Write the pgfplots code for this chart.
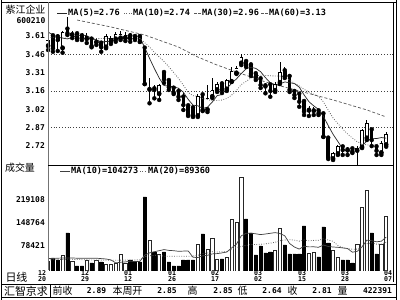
\documentclass[border=0pt]{standalone}
\usepackage{fontspec}
\setmainfont{DejaVu Sans}
\newfontfamily\cjk{Noto Sans CJK SC}
\newfontfamily\mono{DejaVu Sans Mono}
\usepackage{pgfplots}
\pgfplotsset{compat=1.18}
\usepackage{pgfplotstable}
\usetikzlibrary{plotmarks}
\newcommand\nf{\mono\bfseries\fontsize{8}{9}\selectfont}
\newcommand\lf{\mono\bfseries\fontsize{8.6}{9}\selectfont}
\newcommand\tf{\mono\bfseries\fontsize{6.6}{6.3}\selectfont}
\newcommand\cf[1]{\cjk\fontsize{#1}{#1}\selectfont}
\pgfplotstableread{
i o h l c
0 3.528 3.593 3.496 3.577
1 3.610 3.618 3.482 3.510
2 3.602 3.626 3.488 3.577
3 3.510 3.650 3.474 3.636
4 3.664 3.761 3.618 3.632
5 3.618 3.650 3.593 3.634
6 3.626 3.642 3.577 3.591
7 3.610 3.634 3.577 3.598
8 3.585 3.634 3.553 3.606
9 3.583 3.604 3.518 3.528
10 3.557 3.593 3.537 3.565
11 3.550 3.561 3.482 3.518
12 3.518 3.626 3.510 3.610
13 3.563 3.610 3.545 3.591
14 3.583 3.645 3.563 3.626
15 3.591 3.650 3.577 3.626
16 3.591 3.642 3.569 3.618
17 3.610 3.634 3.563 3.588
18 3.604 3.618 3.577 3.593
19 3.604 3.618 3.561 3.563
20 3.510 3.523 3.220 3.220
21 3.174 3.267 3.064 3.180
22 3.180 3.212 3.104 3.172
23 3.139 3.220 3.091 3.212
24 3.312 3.328 3.229 3.258
25 3.247 3.253 3.172 3.194
26 3.185 3.204 3.139 3.150
27 3.158 3.188 3.091 3.117
28 3.113 3.147 3.010 3.050
29 3.042 3.058 2.961 2.969
30 3.026 3.042 2.953 2.961
31 2.961 3.139 2.953 3.123
32 3.131 3.139 3.001 3.010
33 3.010 3.212 2.993 3.104
34 3.117 3.267 3.107 3.172
35 3.172 3.237 3.156 3.220
36 3.220 3.229 3.147 3.172
37 3.177 3.261 3.164 3.247
38 3.239 3.361 3.237 3.320
39 3.307 3.366 3.302 3.348
40 3.388 3.464 3.374 3.437
41 3.401 3.415 3.358 3.374
42 3.374 3.391 3.285 3.302
43 3.302 3.318 3.253 3.275
44 3.261 3.277 3.188 3.212
45 3.204 3.229 3.145 3.200
46 3.212 3.220 3.117 3.164
47 3.166 3.237 3.156 3.220
48 3.231 3.399 3.220 3.312
49 3.326 3.358 3.269 3.285
50 3.280 3.293 3.156 3.172
51 3.158 3.180 3.107 3.131
52 3.137 3.147 3.036 3.077
53 3.077 3.091 2.969 2.996
54 3.005 3.042 2.961 3.010
55 3.001 3.034 2.969 3.005
56 3.001 3.010 2.969 2.983
57 2.977 2.985 2.791 2.793
58 2.780 2.791 2.612 2.626
59 2.612 2.669 2.604 2.658
60 2.653 2.726 2.645 2.712
61 2.709 2.726 2.645 2.685
62 2.685 2.709 2.645 2.681
63 2.693 2.701 2.661 2.671
64 2.679 2.717 2.555 2.701
65 2.707 2.855 2.701 2.842
66 2.780 2.928 2.766 2.902
67 2.847 2.855 2.717 2.766
68 2.709 2.726 2.645 2.679
69 2.661 2.758 2.645 2.742
70 2.726 2.834 2.712 2.815
}\price
\pgfplotstableread{
i m5 m10
0 3.642 3.600
1 3.618 3.598
2 3.602 3.596
3 3.593 3.594
4 3.586 3.592
5 3.598 3.591
6 3.614 3.590
7 3.618 3.590
8 3.612 3.589
9 3.591 3.589
10 3.577 3.588
11 3.563 3.589
12 3.565 3.592
13 3.563 3.587
14 3.582 3.587
15 3.594 3.586
16 3.614 3.589
17 3.610 3.588
18 3.610 3.586
19 3.598 3.589
20 3.516 3.555
21 3.429 3.521
22 3.346 3.477
23 3.269 3.440
24 3.208 3.403
25 3.203 3.360
26 3.197 3.313
27 3.186 3.266
28 3.154 3.211
29 3.096 3.152
30 3.049 3.126
31 3.044 3.121
32 3.022 3.104
33 3.033 3.094
34 3.074 3.085
35 3.126 3.087
36 3.135 3.090
37 3.183 3.103
38 3.226 3.130
39 3.262 3.168
40 3.305 3.216
41 3.345 3.241
42 3.356 3.270
43 3.347 3.287
44 3.320 3.291
45 3.272 3.289
46 3.230 3.288
47 3.214 3.285
48 3.222 3.284
49 3.237 3.278
50 3.231 3.251
51 3.224 3.227
52 3.195 3.205
53 3.132 3.177
54 3.077 3.156
55 3.043 3.137
56 3.014 3.119
57 2.958 3.076
58 2.883 3.008
59 2.813 2.945
60 2.754 2.899
61 2.695 2.855
62 2.672 2.815
63 2.682 2.782
64 2.690 2.752
65 2.716 2.735
66 2.760 2.727
67 2.777 2.724
68 2.778 2.730
69 2.786 2.738
70 2.781 2.748
}\pma
\pgfplotstableread{
i m30
6 3.739
13 3.683
20 3.618
27 3.520
31 3.439
35 3.374
39 3.318
45 3.237
52 3.164
59 3.091
66 3.010
70 2.953
}\pmal
\pgfplotstableread{
i v
0 30850
3 49360
5 30850
8 33935
10 33935
12 21595
13 21595
14 24680
15 52445
16 24680
21 95635
23 52445
31 83295
33 67870
34 101805
35 37020
37 43190
38 160420
39 151165
40 289990
47 64785
48 132655
54 55530
55 58615
59 64785
60 43190
64 83295
65 197440
66 249885
69 83295
70 169675
}\vup
\pgfplotstableread{
i v
1 40105
2 33935
4 117230
6 15425
7 15425
9 24680
11 27765
17 33935
18 27765
19 27765
20 228290
22 58615
24 58615
25 27765
26 15425
27 15425
28 33935
29 33935
30 33935
32 114145
36 37020
41 160420
42 117230
43 49360
44 77125
45 55530
46 58615
49 80210
50 52445
51 52445
52 52445
53 138825
56 43190
57 135740
58 86380
61 33935
62 33935
63 24680
67 117230
68 52445
}\vdn
\pgfplotstableread{
i m10 m20
0 38560 34000
1 38560 34500
2 39490 35000
3 40100 35500
4 40100 36000
5 40100 36000
6 39490 35500
7 39490 35000
8 39180 34500
9 39180 34000
10 39490 34000
11 38250 33500
12 37020 33500
13 34240 33000
14 24990 33000
15 27150 33500
16 28070 33500
17 29930 34000
18 29310 34200
19 29620 34400
20 49050 44270
21 55840 47050
22 59540 48280
23 62630 48440
24 66020 45500
25 63550 45350
26 62630 45350
27 60780 45350
28 61390 45350
29 62010 45810
30 42570 45810
31 41340 48590
32 46890 53220
33 48440 55530
34 52750 59390
35 53680 58620
36 55840 59230
37 58620 59700
38 71260 66330
39 82990 72500
40 108590 75580
41 116310 78820
42 116610 81750
43 114760 81600
44 112290 82520
45 114150 83910
46 116310 86070
47 118460 88540
48 115690 93480
49 108590 95790
50 84840 96720
51 74040 95170
52 67560 92090
53 76510 95640
54 74350 93320
55 74660 94400
56 73120 94710
57 80210 99340
58 75580 95640
59 74040 91320
60 73120 78980
61 71260 72650
62 69410 68490
63 58000 67250
64 60780 67560
65 74660 74660
66 95330 84220
67 93480 86840
68 90080 82830
69 91930 82990
70 104580 88850
}\vma
\begin{document}
\begin{tikzpicture}
\useasboundingbox (0,0) rectangle (400bp,300bp);
\fill[white] (0,0) rectangle (400bp,300bp);
% ---------- price panel ----------
\begin{axis}[
  at={(48bp,135bp)}, anchor=south west, scale only axis,
  width=345bp, height=162bp,
  xmin=-0.02, xmax=71.41, ymin=2.5635, ymax=3.8773,
  axis line style={draw=none}, major tick length=0pt,
  xtick=\empty,
  ytick={2.72,2.866,3.016,3.164,3.312,3.461,3.609},
  yticklabels={2.72,2.87,3.02,3.16,3.31,3.46,3.61},
  yticklabel style={font=\nf, anchor=east, inner sep=0pt, xshift=-3bp},
  extra y ticks={2.866,3.164,3.461}, extra y tick labels={},
  extra y tick style={grid=major},
  major grid style={black!75, dash pattern=on 0.9bp off 1.9bp, line width=0.7bp},
]
% wicks
\addplot[only marks, mark=none, error bars/.cd, y dir=plus, y explicit, error mark=none,
  error bar style={draw=black, line width=0.8bp, solid}]
  table[x=i, y=l, y error expr=\thisrow{h}-\thisrow{l}]{\price};
% bodies (black)
\addplot[only marks, mark=none, error bars/.cd, y dir=plus, y explicit, error mark=none,
  error bar style={draw=black, line width=3.5bp, solid}]
  table[x=i, y expr={min(\thisrow{o},\thisrow{c})}, y error expr={abs(\thisrow{c}-\thisrow{o})}]{\price};
% hollow interiors of rising candles
\addplot[only marks, mark=none, error bars/.cd, y dir=plus, y explicit, error mark=none,
  error bar style={draw=white, line width=2.1bp, solid}]
  table[x=i, y expr={\thisrow{o}+0.0057}, y error expr={max(\thisrow{c}-\thisrow{o}-0.0114,0)}]{\price};
% open / close ticks
\addplot[only marks, mark=-, mark size=1.75bp, mark options={draw=black, line width=0.7bp, solid}]
  table[x=i, y=c]{\price};
\addplot[only marks, mark=-, mark size=1.75bp, mark options={draw=black, line width=0.7bp, solid}]
  table[x=i, y=o]{\price};
\addplot[black!85, line width=0.7bp, mark=none] table[x=i,y=m5]{\pma};
\addplot[black!60, line width=0.8bp, dash pattern=on 0.8bp off 1.6bp, mark=none] table[x=i,y=m10]{\pma};
\addplot[black!65, line width=0.7bp, dash pattern=on 3bp off 2bp, mark=none] table[x=i,y=m30]{\pmal};
\end{axis}
% ---------- volume panel ----------
\begin{axis}[
  at={(48bp,29bp)}, anchor=south west, scale only axis,
  width=345bp, height=106bp,
  xmin=-0.02, xmax=71.41, ymin=0, ymax=327010,
  axis line style={draw=none}, major tick length=0pt,
  xtick=\empty,
  ytick={78421,148764,219108},
  yticklabels={78421,148764,219108},
  yticklabel style={font=\nf, anchor=east, inner sep=0pt, xshift=-3bp},
  scaled y ticks=false,
]
\addplot[ybar, bar width=3.2bp, bar shift=0pt, draw=black!85, fill=white, line width=0.6bp] table[x=i,y=v]{\vup};
\addplot[ybar, bar width=3.2bp, bar shift=0pt, draw=black, fill=black, line width=0.6bp] table[x=i,y=v]{\vdn};
\addplot[black!75, line width=0.7bp, mark=none] table[x=i,y=m10]{\vma};
\addplot[black!60, line width=0.8bp, dash pattern=on 0.8bp off 1.6bp, mark=none] table[x=i,y=m20]{\vma};
\end{axis}
% ---------- frames ----------
\draw[line width=1.3bp] (1.2bp,0) -- (1.2bp,300bp);
\draw[line width=1.3bp] (396.6bp,0) -- (396.6bp,300bp);
\draw[line width=1bp] (1.2bp,297.5bp) -- (396.6bp,297.5bp);
\draw[line width=1bp] (393.3bp,297.5bp) -- (393.3bp,18bp);
\draw[line width=1.6bp, black!55] (48.5bp,297.5bp) -- (48.5bp,30bp);
\draw[line width=0.8bp] (48bp,135bp) -- (393.3bp,135bp);
\draw[line width=1.3bp] (1.2bp,15.3bp) -- (396.6bp,15.3bp);
\draw[line width=1.3bp] (1.2bp,2.5bp) -- (396.6bp,2.5bp);
\draw[line width=1bp] (50bp,15.3bp) -- (50bp,2.5bp);
% ---------- legends ----------
\draw[black!85, line width=0.8bp] (57bp,286.7bp) -- (67bp,286.7bp);
\node[font=\lf, anchor=west, inner sep=0pt] at (68bp,286.7bp) {MA(5)=2.76};
\draw[black!60, line width=0.8bp, dash pattern=on 0.8bp off 1.6bp] (124bp,286.7bp) -- (132bp,286.7bp);
\node[font=\lf, anchor=west, inner sep=0pt] at (133bp,286.7bp) {MA(10)=2.74};
\draw[black!65, line width=0.8bp, dash pattern=on 2.5bp off 1.5bp] (194bp,286.7bp) -- (201bp,286.7bp);
\node[font=\lf, anchor=west, inner sep=0pt] at (202bp,286.7bp) {MA(30)=2.96};
\draw[black!65, line width=0.8bp, dash pattern=on 2.5bp off 1.5bp] (261bp,286.7bp) -- (268bp,286.7bp);
\node[font=\lf, anchor=west, inner sep=0pt] at (269bp,286.7bp) {MA(60)=3.13};
\draw[black!75, line width=0.8bp] (60bp,129bp) -- (70bp,129bp);
\node[font=\lf, anchor=west, inner sep=0pt] at (71bp,129bp) {MA(10)=104273};
\draw[black!60, line width=0.8bp, dash pattern=on 0.8bp off 1.6bp] (140bp,129bp) -- (147bp,129bp);
\node[font=\lf, anchor=west, inner sep=0pt] at (148bp,129bp) {MA(20)=89360};
% ---------- labels ----------
\node[font=\cf{10}, inner sep=0pt] at (25.5bp,290.3bp) {紫江企业};
\node[font=\nf, anchor=east, inner sep=0pt] at (45.5bp,279.5bp) {600210};
\node[font=\cf{10}, inner sep=0pt] at (20bp,132bp) {成交量};
\node[font=\cf{11}, inner sep=0pt] at (16.5bp,22.5bp) {日线};
\foreach \xx/\ma/\mb in {42/12/20, 85/12/29, 128/01/12, 172/01/26, 215/02/17, 258/03/02, 302/03/15, 345/03/28, 388/04/07}{
  \node[font=\tf, align=center, inner sep=0pt] at (\xx bp,24bp) {\ma\\\mb};
}
% ---------- status bar ----------
\node[font=\cf{11}, inner sep=0pt] at (26bp,9bp) {汇智京求};
\node[font=\cf{10}, inner sep=0pt] at (62.5bp,9bp) {前收};
\node[font=\nf, inner sep=0pt] at (96.5bp,9bp) {2.89};
\node[font=\cf{10}, inner sep=0pt] at (127.5bp,9bp) {本周开};
\node[font=\nf, inner sep=0pt] at (167bp,9bp) {2.85};
\node[font=\cf{10}, inner sep=0pt] at (192.5bp,9bp) {高};
\node[font=\nf, inner sep=0pt] at (223bp,9bp) {2.85};
\node[font=\cf{10}, inner sep=0pt] at (242.5bp,9bp) {低};
\node[font=\nf, inner sep=0pt] at (272bp,9bp) {2.64};
\node[font=\cf{10}, inner sep=0pt] at (292.5bp,9bp) {收};
\node[font=\nf, inner sep=0pt] at (322bp,9bp) {2.81};
\node[font=\cf{10}, inner sep=0pt] at (342.5bp,9bp) {量};
\node[font=\nf, inner sep=0pt] at (377.5bp,9bp) {422391};
\end{tikzpicture}
\end{document}
